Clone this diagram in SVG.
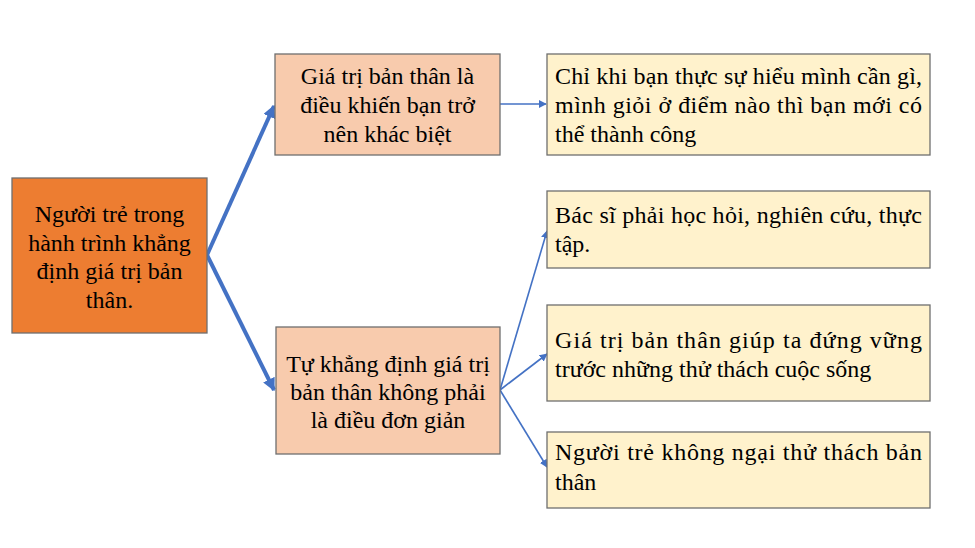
<svg xmlns="http://www.w3.org/2000/svg" width="975" height="548" viewBox="0 0 975 548" font-family="'Liberation Serif', 'Times New Roman', serif" font-size="24">
<defs>
<marker id="ah" viewBox="0 0 10 10" refX="9" refY="5" markerWidth="3.2" markerHeight="3.2" orient="auto" markerUnits="strokeWidth"><path d="M0,0 L10,5 L0,10 z" fill="#4472C4"/></marker>
<marker id="as" viewBox="0 0 10 10" refX="9" refY="5" markerWidth="5" markerHeight="5" orient="auto" markerUnits="strokeWidth"><path d="M0,0 L10,5 L0,10 z" fill="#4472C4"/></marker>
</defs>
<style>
rect{stroke:#6f6f6f;stroke-width:1.3}
.root{fill:#ED7D31}
.mid{fill:#F8CBAD}
.leaf{fill:#FFF2CC}
text{fill:#000}
.c{text-anchor:middle}
.thick{stroke:#4472C4;stroke-width:4;fill:none;marker-end:url(#ah)}
.thin{stroke:#4472C4;stroke-width:1.6;fill:none;marker-end:url(#as)}
</style>
<rect width="975" height="548" fill="#fff" style="stroke:none"/>
<g id="connectors">
<line class="thick" x1="207" y1="255" x2="274" y2="106"/>
<line class="thick" x1="207" y1="255" x2="274" y2="390"/>
<line class="thin" x1="500" y1="104" x2="546" y2="104"/>
<line class="thin" x1="500" y1="390" x2="547" y2="231"/>
<line class="thin" x1="500" y1="390" x2="547" y2="354"/>
<line class="thin" x1="500" y1="390" x2="547" y2="467"/>
</g>
<g id="root">
<rect class="root" x="12" y="178" width="195" height="155"/>
<text class="c" x="109.5" y="222">Người trẻ trong</text>
<text class="c" x="109.5" y="251">hành trình khẳng</text>
<text class="c" x="109.5" y="279">định giá trị bản</text>
<text class="c" x="109.5" y="308">thân.</text>
</g>
<g id="nodeA">
<rect class="mid" x="275" y="54" width="225" height="101"/>
<text class="c" x="387.5" y="84">Giá trị bản thân là</text>
<text class="c" x="387.5" y="113">điều khiến bạn trở</text>
<text class="c" x="387.5" y="142">nên khác biệt</text>
</g>
<g id="nodeB">
<rect class="mid" x="276" y="327" width="224" height="127"/>
<text class="c" x="388" y="372">Tự khẳng định giá trị</text>
<text class="c" x="388" y="400">bản thân không phải</text>
<text class="c" x="388" y="428">là điều đơn giản</text>
</g>
<g id="leaf1">
<rect class="leaf" x="547" y="54" width="383" height="101"/>
<text x="555" y="84" textLength="367" lengthAdjust="spacing">Chỉ khi bạn thực sự hiểu mình cần gì,</text>
<text x="555" y="113" textLength="367" lengthAdjust="spacing">mình giỏi ở điểm nào thì bạn mới có</text>
<text x="555" y="142">thể thành công</text>
</g>
<g id="leaf2">
<rect class="leaf" x="547" y="191" width="383" height="77"/>
<text x="555" y="223" textLength="367" lengthAdjust="spacing">Bác sĩ phải học hỏi, nghiên cứu, thực</text>
<text x="555" y="252">tập.</text>
</g>
<g id="leaf3">
<rect class="leaf" x="547" y="305" width="383" height="96"/>
<text x="555" y="348" textLength="367" lengthAdjust="spacing">Giá trị bản thân giúp ta đứng vững</text>
<text x="555" y="377">trước những thử thách cuộc sống</text>
</g>
<g id="leaf4">
<rect class="leaf" x="547" y="432" width="383" height="76"/>
<text x="555" y="460" textLength="367" lengthAdjust="spacing">Người trẻ không ngại thử thách bản</text>
<text x="555" y="490">thân</text>
</g>
</svg>
